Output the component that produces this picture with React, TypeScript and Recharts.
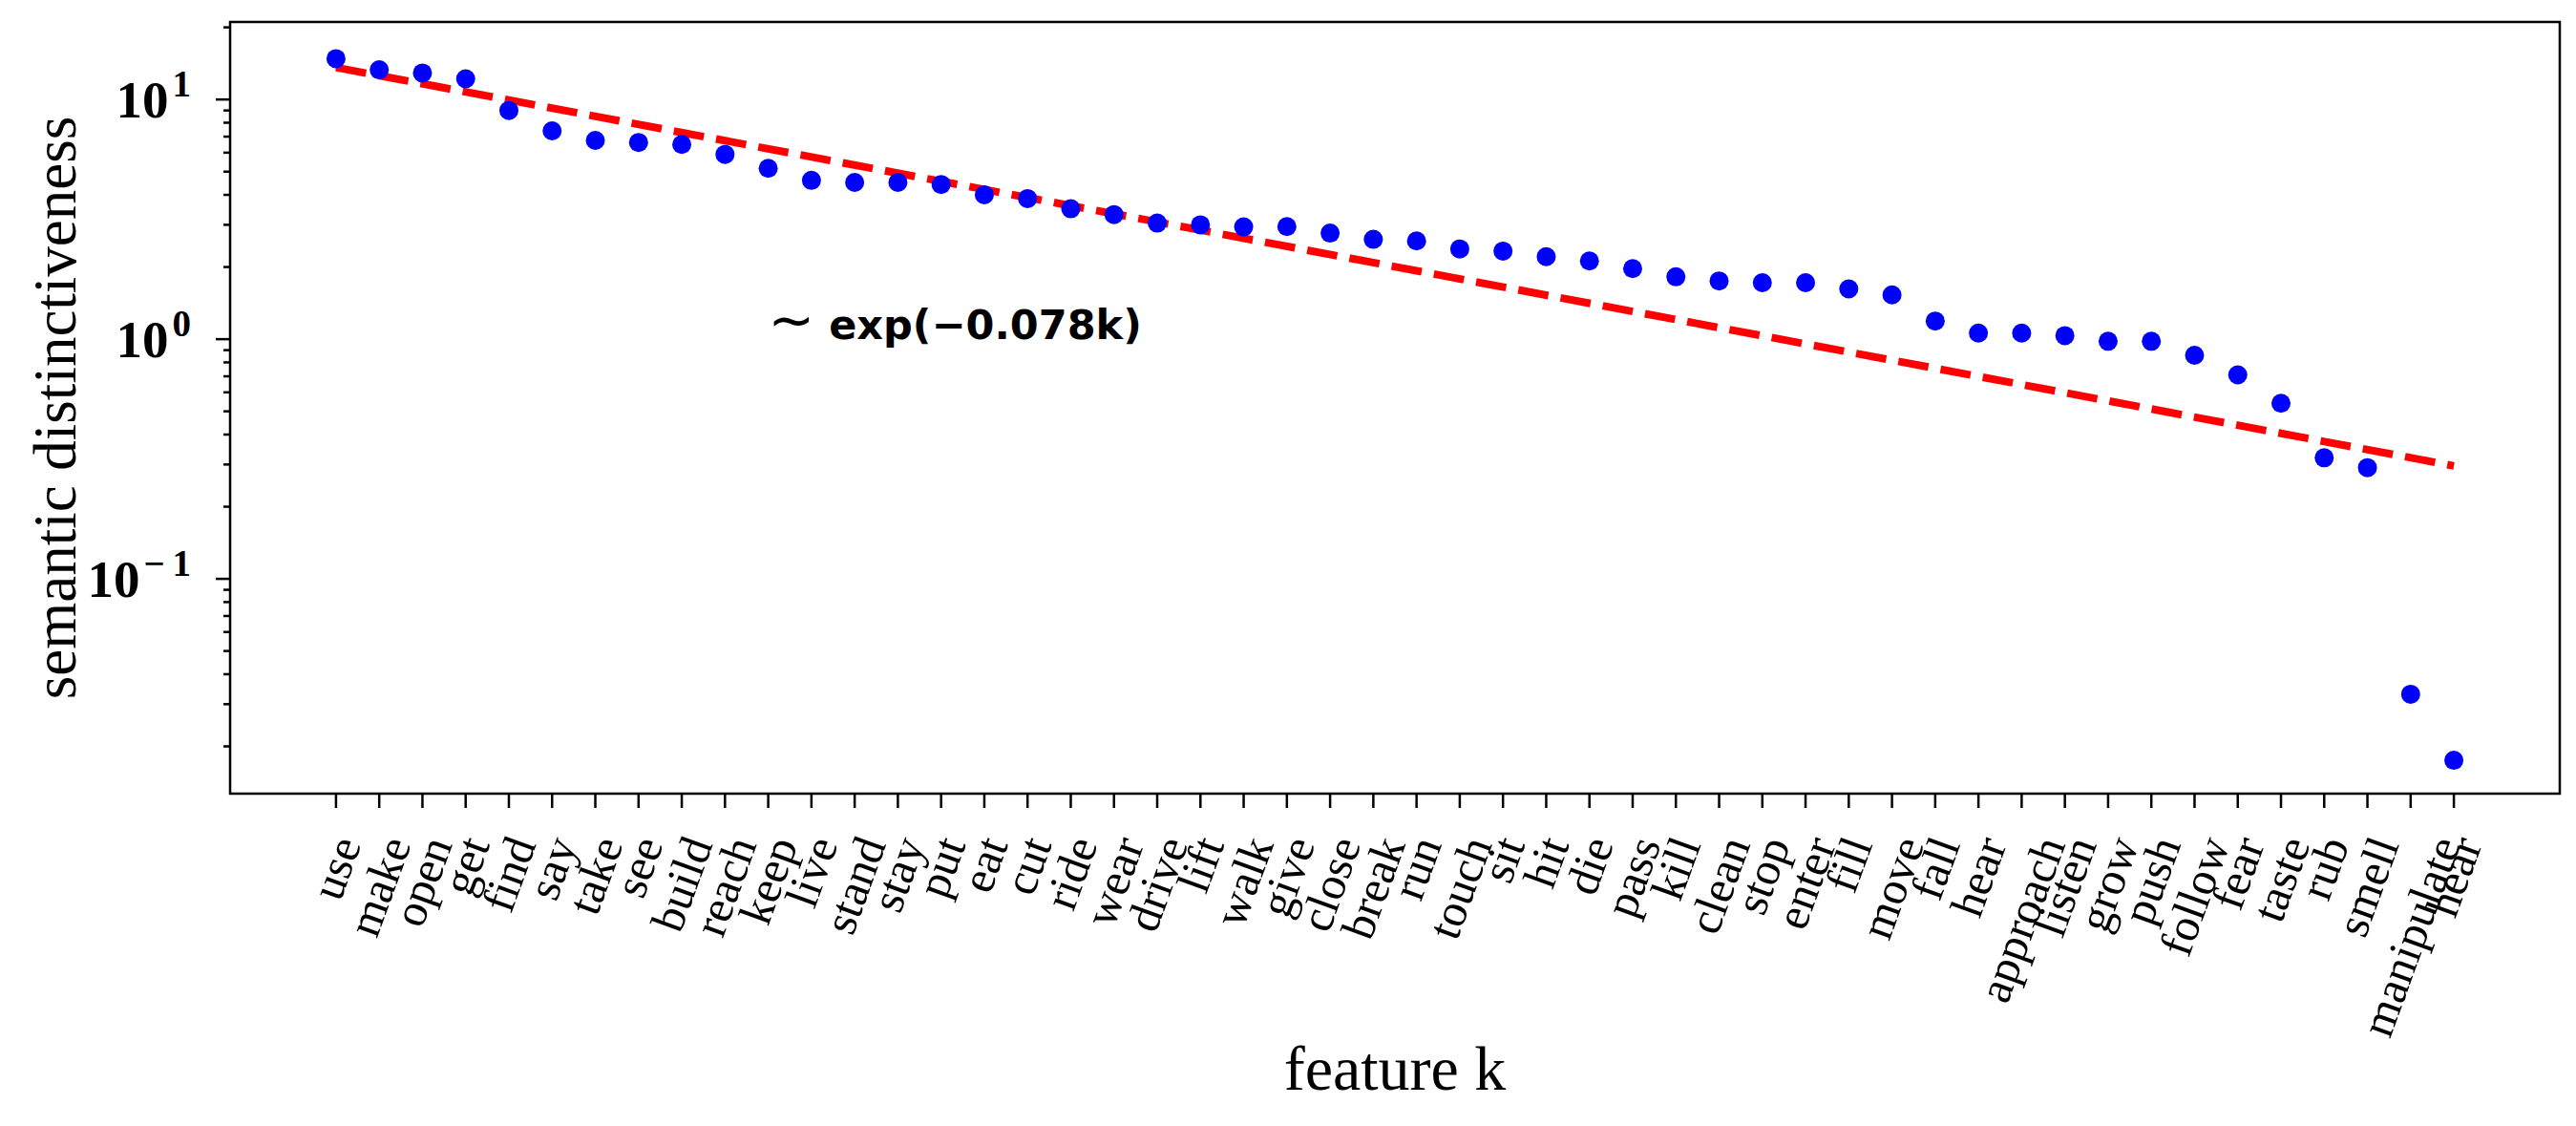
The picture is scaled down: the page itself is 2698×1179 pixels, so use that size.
import React from "react";
import {
  ComposedChart,
  Scatter,
  Line,
  XAxis,
  YAxis,
  ReferenceArea,
  ReferenceDot,
  Label,
} from "recharts";

const features = [
  "use", "make", "open", "get", "find", "say", "take", "see", "build", "reach",
  "keep", "live", "stand", "stay", "put", "eat", "cut", "ride", "wear", "drive",
  "lift", "walk", "give", "close", "break", "run", "touch", "sit", "hit", "die",
  "pass", "kill", "clean", "stop", "enter", "fill", "move", "fall", "hear", "approach",
  "listen", "grow", "push", "follow", "fear", "taste", "rub", "smell", "manipulate", "hear",
];

const distinctiveness = [
  14.8, 13.3, 12.9, 12.2, 9.0, 7.4, 6.75, 6.62, 6.49, 5.9,
  5.16, 4.6, 4.51, 4.51, 4.42, 4.0, 3.86, 3.5, 3.31, 3.05,
  3.0, 2.94, 2.95, 2.77, 2.61, 2.57, 2.38, 2.33, 2.21, 2.12,
  1.97, 1.82, 1.75, 1.72, 1.72, 1.62, 1.53, 1.19, 1.06, 1.06,
  1.035, 0.98, 0.98, 0.857, 0.71, 0.54, 0.32, 0.291, 0.033, 0.0175,
];

// exponential fit, given by its two end values (straight on the log axis)
const fitEnds = [13.6, 0.296];

const yMajorTicks = [0.1, 1, 10];
const yExponents = ["\u2212\u20091", "0", "1"];
const yMinorTicks = [
  0.02, 0.03, 0.04, 0.05, 0.06, 0.07, 0.08, 0.09,
  0.2, 0.3, 0.4, 0.5, 0.6, 0.7, 0.8, 0.9,
  2, 3, 4, 5, 6, 7, 8, 9, 20,
];
const yDomain = [0.0127, 21.06];
const xDomain = [-2.45, 51.45];

const annotationTilde = "\u223C";
const annotation = " exp(\u22120.078k)";
const annotationAt = { k: 10, value: 1 };

const last = features.length - 1;
const data = features.map((feature, k) => ({
  k,
  feature,
  value: distinctiveness[k],
  fit: k === 0 ? fitEnds[0] : k === last ? fitEnds[1] : null,
}));

const SERIF = '"Liberation Serif", "Times New Roman", serif';
const SANS = '"DejaVu Sans", sans-serif';
const X_FS = 49;
const SIN70 = Math.sin((70 * Math.PI) / 180);
const COS70 = Math.cos((70 * Math.PI) / 180);

let ctx: CanvasRenderingContext2D | null = null;
function textWidth(s: string, font: string) {
  if (!ctx) ctx = document.createElement("canvas").getContext("2d");
  if (!ctx) return s.length * 20;
  ctx.font = font;
  return ctx.measureText(s).width;
}

function FeatureTick(props: any) {
  const { x, y, payload } = props;
  const label = features[payload.value];
  if (label === undefined) return null;
  const w = textWidth(label, `${X_FS}px ${SERIF}`);
  const h = X_FS * 1.1;
  const boxH = w * SIN70 + h * COS70;
  const cx = x;
  const cy = y + 38 + boxH / 2;
  return (
    <g>
      <line x1={x} y1={y} x2={x} y2={y + 15} stroke="#000" strokeWidth={2.5} />
      <text
        x={cx}
        y={cy}
        transform={`rotate(-70 ${cx} ${cy})`}
        textAnchor="middle"
        dominantBaseline="central"
        fontFamily={SERIF}
        fontSize={X_FS}
        fill="#000"
      >
        {label}
      </text>
    </g>
  );
}

function LogTick(props: any) {
  const { x, y, payload } = props;
  const i = yMajorTicks.indexOf(payload.value);
  const len = i >= 0 ? 15 : 7;
  return (
    <g>
      <line x1={x - len} y1={y} x2={x} y2={y} stroke="#000" strokeWidth={2.5} />
      {i >= 0 && (
        <text
          x={x - 41}
          y={y + 19}
          textAnchor="end"
          fontFamily={SERIF}
          fontWeight="bold"
          fontSize={55}
          fill="#000"
        >
          10
          <tspan dx={4} dy={-22} fontSize={39}>
            {yExponents[i]}
          </tspan>
        </text>
      )}
    </g>
  );
}

function YTitle(props: any) {
  const vb = props.viewBox || { x: 0, y: 0, width: 0, height: 0 };
  const cx = vb.x + 58;
  const cy = vb.y + vb.height / 2;
  return (
    <text
      x={cx}
      y={cy}
      transform={`rotate(-90 ${cx} ${cy})`}
      textAnchor="middle"
      dominantBaseline="central"
      fontFamily={SERIF}
      fontSize={63}
      fill="#000"
    >
      semantic distinctiveness
    </text>
  );
}

function XTitle(props: any) {
  const vb = props.viewBox || { x: 0, y: 0, width: 0, height: 0 };
  return (
    <text
      x={vb.x + vb.width / 2}
      y={vb.y + 310}
      textAnchor="middle"
      fontFamily={SERIF}
      fontSize={66}
      fill="#000"
    >
      feature k
    </text>
  );
}

function Annotation(props: any) {
  return (
    <text x={props.cx} y={props.cy} fontFamily={SANS} fill="#000">
      <tspan fontSize={58} fontWeight="normal">
        {annotationTilde}
      </tspan>
      <tspan fontSize={43} fontWeight="bold">
        {annotation}
      </tspan>
    </text>
  );
}

function Dot(props: any) {
  return <circle cx={props.cx} cy={props.cy} r={10} fill="#0000ff" />;
}

export default function App() {
  return (
    <div
      style={{
        position: "absolute",
        left: 0,
        top: 0,
        width: 2698,
        height: 1179,
        background: "#fff",
      }}
    >
      <ComposedChart
        width={2698}
        height={1179}
        data={data}
        margin={{ top: 23, right: 17, bottom: 0, left: 0 }}
      >
        <XAxis
          dataKey="k"
          type="number"
          domain={xDomain}
          allowDataOverflow
          ticks={data.map((d) => d.k)}
          interval={0}
          tick={<FeatureTick />}
          tickLine={false}
          axisLine={false}
          tickSize={0}
          tickMargin={0}
          height={348}
        >
          <Label content={<XTitle />} />
        </XAxis>
        <YAxis
          type="number"
          scale="log"
          domain={yDomain}
          allowDataOverflow
          ticks={[...yMinorTicks, ...yMajorTicks].sort((a, b) => a - b)}
          interval={0}
          tick={<LogTick />}
          tickLine={false}
          axisLine={false}
          tickSize={0}
          tickMargin={0}
          width={241}
        >
          <Label content={<YTitle />} />
        </YAxis>
        <ReferenceArea
          x1={xDomain[0]}
          x2={xDomain[1]}
          y1={yDomain[0]}
          y2={yDomain[1]}
          fill="none"
          fillOpacity={0}
          stroke="#000"
          strokeWidth={2.5}
          ifOverflow="extendDomain"
        />
        <Line
          dataKey="fit"
          stroke="#ff0000"
          strokeWidth={8}
          strokeDasharray="32 13"
          dot={false}
          activeDot={false}
          connectNulls
          isAnimationActive={false}
        />
        <Scatter
          data={data}
          dataKey="value"
          fill="#0000ff"
          shape={<Dot />}
          isAnimationActive={false}
        />
        <ReferenceDot
          x={annotationAt.k}
          y={annotationAt.value}
          r={0}
          shape={<Annotation />}
          ifOverflow="visible"
        />
      </ComposedChart>
    </div>
  );
}
